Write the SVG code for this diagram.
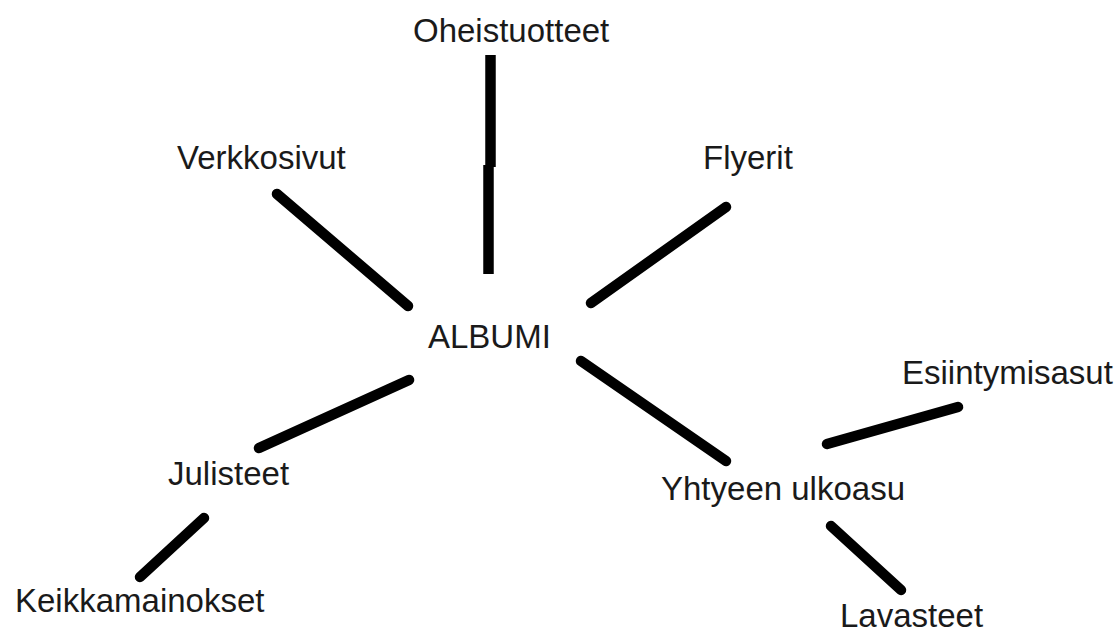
<svg xmlns="http://www.w3.org/2000/svg" width="1119" height="632" viewBox="0 0 1119 632">
<style>
.lbl{font-family:"Liberation Sans",Arial,Helvetica,sans-serif;font-size:33px;fill:#1a1a1a}
.c{stroke:#000;stroke-width:10.5;stroke-linecap:round;fill:none}
.v{stroke:#000;stroke-width:10.5;stroke-linecap:butt;fill:none}
</style>
<rect x="0" y="0" width="1119" height="632" fill="#fff"/>
<g id="connectors">
<line class="v" x1="490.5" y1="55" x2="490.5" y2="167"/>
<line class="v" x1="488.5" y1="165" x2="488.5" y2="274"/>
<line class="c" x1="277" y1="194" x2="408" y2="306"/>
<line class="c" x1="726" y1="207" x2="591" y2="303"/>
<line class="c" x1="409" y1="380" x2="259" y2="448"/>
<line class="c" x1="204" y1="518" x2="140" y2="577"/>
<line class="c" x1="581" y1="361" x2="726" y2="461"/>
<line class="c" x1="827" y1="444" x2="958" y2="407"/>
<line class="c" x1="831" y1="526" x2="901" y2="590"/>
</g>
<g id="node-albumi"><text class="lbl" x="428" y="348">ALBUMI</text></g>
<g id="node-oheistuotteet"><text class="lbl" x="413" y="42">Oheistuotteet</text></g>
<g id="node-verkkosivut"><text class="lbl" x="177" y="169">Verkkosivut</text></g>
<g id="node-flyerit"><text class="lbl" x="703" y="169">Flyerit</text></g>
<g id="node-julisteet"><text class="lbl" x="168" y="485">Julisteet</text></g>
<g id="node-keikkamainokset"><text class="lbl" x="15" y="612">Keikkamainokset</text></g>
<g id="node-yhtyeen-ulkoasu"><text class="lbl" x="661" y="500">Yhtyeen ulkoasu</text></g>
<g id="node-esiintymisasut"><text class="lbl" x="902" y="384">Esiintymisasut</text></g>
<g id="node-lavasteet"><text class="lbl" x="840" y="627">Lavasteet</text></g>
</svg>
